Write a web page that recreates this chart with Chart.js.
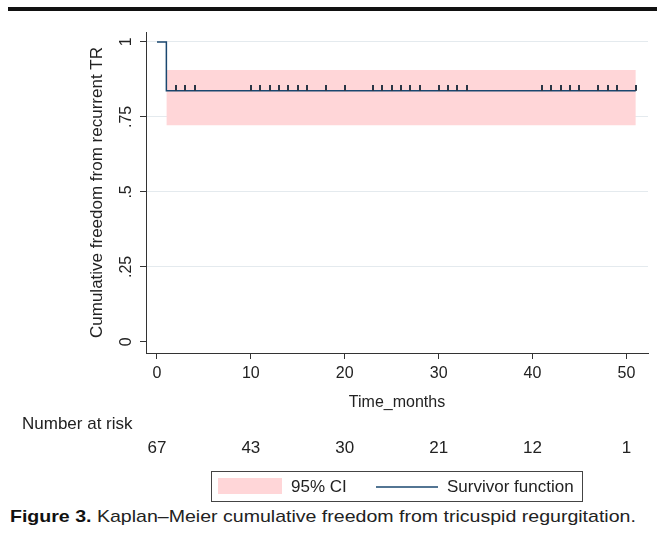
<!DOCTYPE html>
<html>
<head>
<meta charset="utf-8">
<script src="https://cdn.jsdelivr.net/npm/chart.js@4"></script>
<style>
  body { margin: 0; background: #fff; font-family: "Liberation Sans", Arial, sans-serif; }
  #wrap { position: relative; width: 657px; height: 544px; }
  #topbar { position: absolute; left: 8px; right: 0; top: 7px; height: 4px; background: #111; }
  #chart_canvas { position: absolute; left: 0; top: 0; }
  #caption { position: absolute; left: 10px; top: 507px; font-size: 17px; color: #222; white-space: nowrap;
    transform: scaleX(1.15); transform-origin: 0 0; }
  #caption b { color: #111; }
</style>
</head>
<body>
<div id="wrap">
  <canvas id="chart_canvas" width="657" height="505"></canvas>
  <div id="topbar"></div>
  <div id="caption"><b>Figure 3.</b> Kaplan–Meier cumulative freedom from tricuspid regurgitation.</div>
</div>
<script>
// km curve
const survTimes = [0, 1, 51];
const survVals = [1, 0.837, 0.837];

// 95% ci band
const ciTimes = [1, 51];
const ciUpper = [0.906, 0.906];
const ciLower = [0.722, 0.722];

// censored obs (the little ticks)
const censorTimes = [2, 3, 4, 10, 11, 12, 13, 14, 15, 16, 18, 20, 23, 24, 25, 26, 27, 28,
  30, 31, 32, 33, 41, 42, 43, 44, 45, 47, 48, 49, 51];

// number at risk
const riskTimes = [0, 10, 20, 30, 40, 50];
const riskCounts = [67, 43, 30, 21, 12, 1];

// axes
const xTicks = [0, 10, 20, 30, 40, 50];
const yTicks = [0, 0.25, 0.5, 0.75, 1];
const yTickLabels = ["0", ".25", ".5", ".75", "1"];

const navy = "#1a476f";
const pink = "rgb(255,214,216)";
const font = "'Liberation Sans', Arial, sans-serif";

function survAt(t) {
  let v = survVals[0];
  for (let i = 0; i < survTimes.length; i++) if (survTimes[i] <= t) v = survVals[i];
  return v;
}

function pts(xs, ys) {
  return xs.map((x, i) => ({x: x, y: ys[i]}));
}

// tick mark that sticks up from the point
const tickImg = document.createElement("canvas");
tickImg.width = 2;
tickImg.height = 12;
let tctx = tickImg.getContext("2d");
tctx.fillStyle = "#2a3545";
tctx.fillRect(0, 0, 2, 6);

// risk table + legend box
const extras = {
  id: "extras",
  afterDraw(chart) {
    const ctx = chart.ctx;
    const xs = chart.scales.x;
    ctx.save();
    ctx.fillStyle = "#222";
    ctx.font = "17px " + font;
    ctx.textBaseline = "middle";
    ctx.textAlign = "left";
    ctx.fillText("Number at risk", 22, 424);
    ctx.textAlign = "center";
    riskTimes.forEach((t, i) => {
      ctx.fillText(String(riskCounts[i]), xs.getPixelForValue(t), 448);
    });
    // legend
    ctx.strokeStyle = "#444";
    ctx.lineWidth = 1;
    ctx.strokeRect(211.5, 471.5, 371, 30);
    ctx.fillStyle = pink;
    ctx.fillRect(218, 478, 64, 16);
    ctx.fillStyle = "#222";
    ctx.textAlign = "left";
    ctx.fillText("95% CI", 291, 487);
    ctx.strokeStyle = navy;
    ctx.lineWidth = 1.5;
    ctx.beginPath();
    ctx.moveTo(376, 487);
    ctx.lineTo(438, 487);
    ctx.stroke();
    ctx.fillText("Survivor function", 447, 487);
    ctx.restore();
  }
};

const chart = new Chart(document.getElementById("chart_canvas").getContext("2d"), {
  type: "line",
  data: {
    datasets: [
      {
        data: pts(ciTimes, ciUpper),
        borderWidth: 0,
        pointRadius: 0,
        backgroundColor: pink,
        fill: "+1",
        order: 3
      },
      {
        data: pts(ciTimes, ciLower),
        borderWidth: 0,
        pointRadius: 0,
        fill: false,
        order: 3
      },
      {
        data: pts(survTimes, survVals),
        borderColor: navy,
        borderWidth: 1.5,
        stepped: "before",
        pointRadius: 0,
        fill: false,
        order: 2
      },
      {
        data: censorTimes.map(t => ({x: t, y: survAt(t)})),
        showLine: false,
        pointStyle: tickImg,
        pointRadius: 6,
        order: 1
      }
    ]
  },
  options: {
    responsive: false,
    animation: false,
    events: [],
    layout: {padding: {left: 0, right: 9, top: 32, bottom: 90}},
    plugins: {legend: {display: false}, tooltip: {enabled: false}},
    scales: {
      x: {
        type: "linear",
        min: -1.17,
        max: 52.3,
        afterBuildTicks: s => { s.ticks = xTicks.map(v => ({value: v})); },
        afterFit: s => { s.height = 62; },
        border: {color: "#333", width: 1},
        grid: {drawOnChartArea: false, tickLength: 6, tickColor: "#333"},
        ticks: {color: "#222", font: {family: font, size: 16}, padding: 5, maxRotation: 0},
        title: {display: true, text: "Time_months", color: "#222",
          font: {family: font, size: 16}, padding: {top: 0, bottom: 3}}
      },
      y: {
        min: -0.037,
        max: 1.033,
        afterBuildTicks: s => { s.ticks = yTicks.map(v => ({value: v})); },
        afterFit: s => { s.width = 146; },
        border: {color: "#333", width: 1},
        grid: {
          tickLength: 6,
          tickColor: "#333",
          color: c => (c.tick && c.tick.value === 0) ? "rgba(0,0,0,0)" : "#e4eaee"
        },
        ticks: {
          color: "#222",
          font: {family: font, size: 16},
          minRotation: 90,
          maxRotation: 90,
          crossAlign: "center",
          padding: 2,
          callback: v => yTickLabels[yTicks.indexOf(v)]
        },
        title: {display: true, text: "Cumulative freedom from recurrent TR", color: "#222",
          font: {family: font, size: 17}, padding: {top: 87, bottom: 0}}
      }
    }
  },
  plugins: [extras]
});
</script>
</body>
</html>
